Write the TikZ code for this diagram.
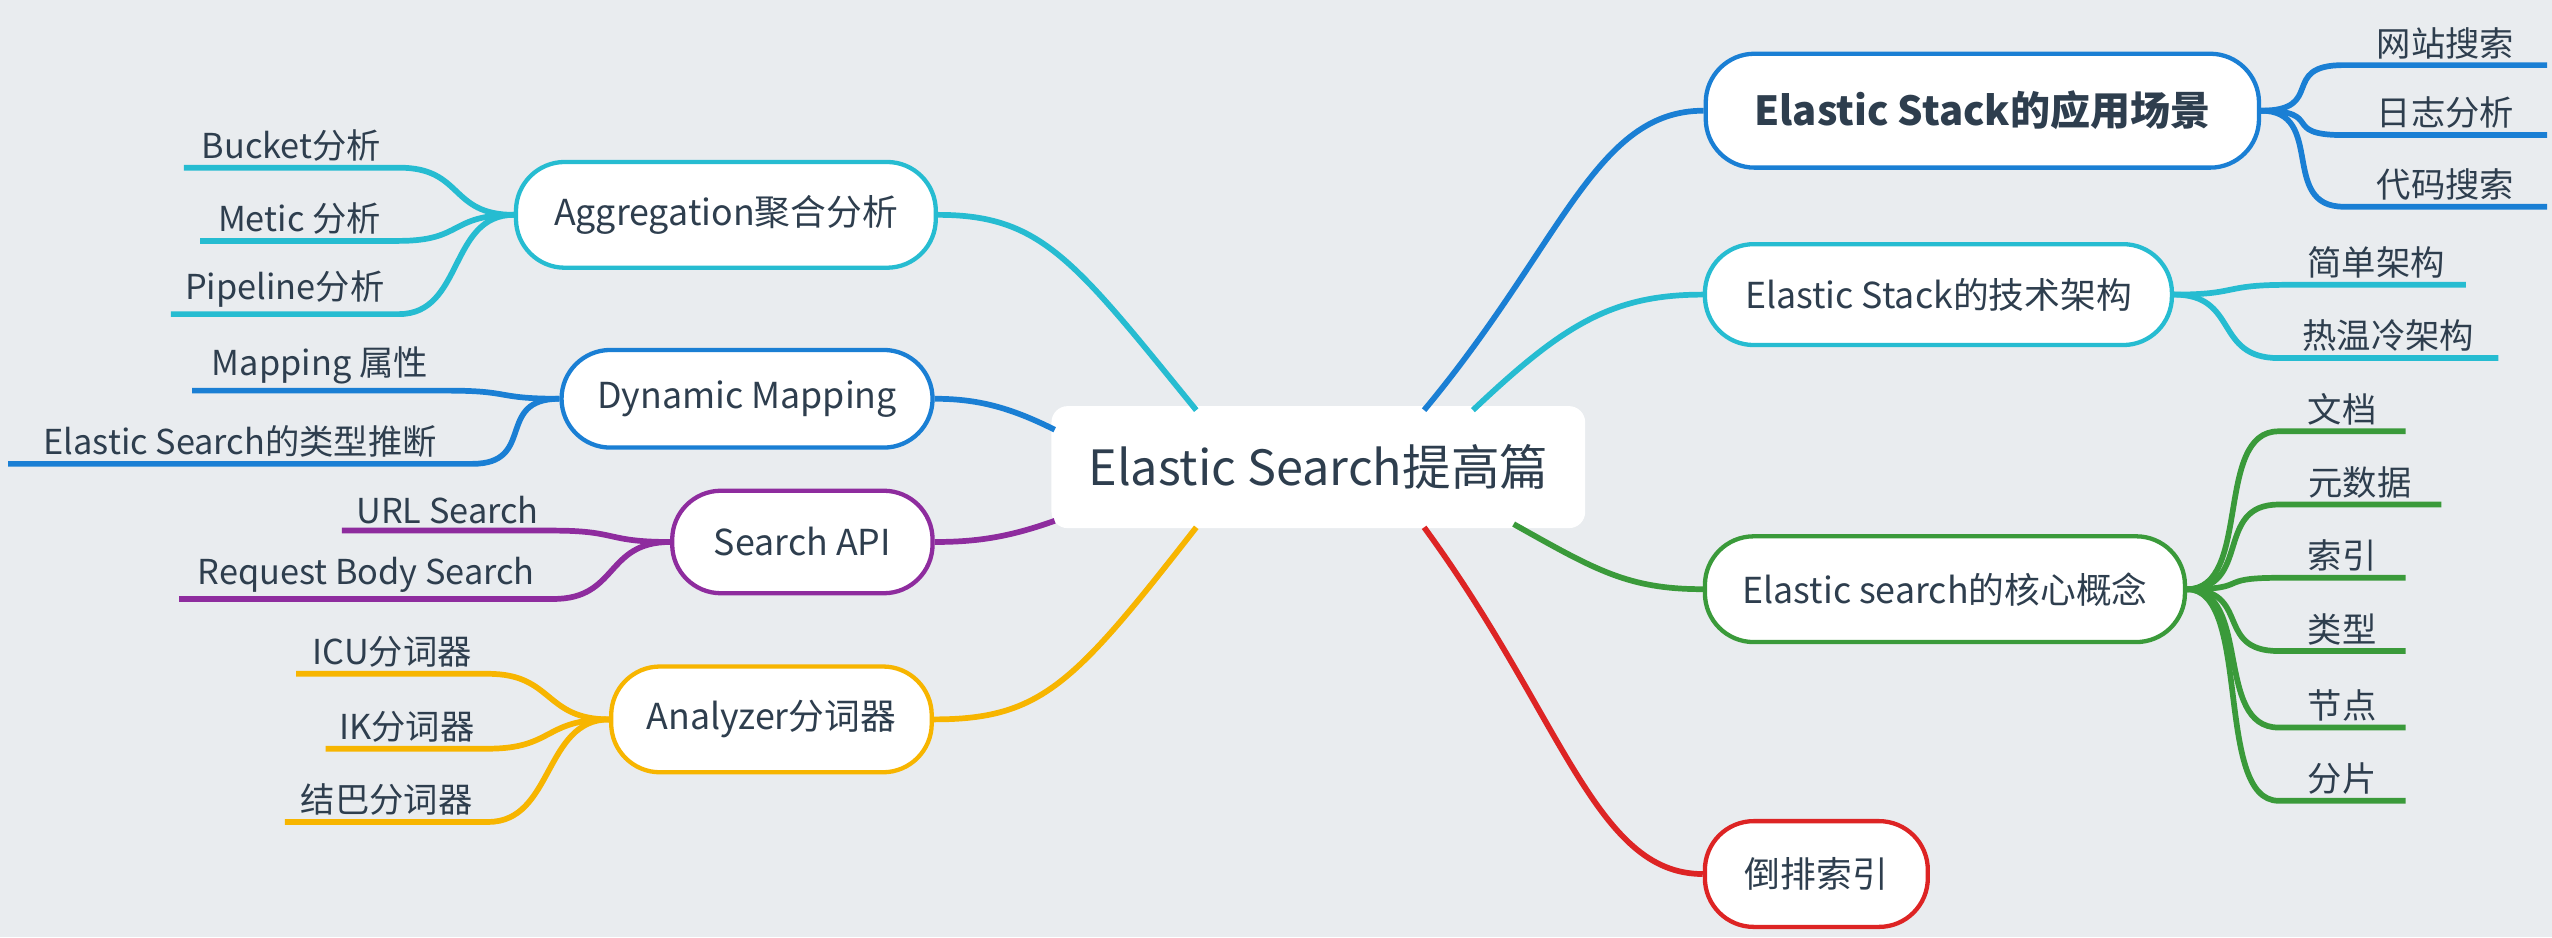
\documentclass[tikz,border=0pt]{standalone}
\usepackage{fontspec}
\setmainfont{Noto Sans CJK SC}
\usetikzlibrary{positioning,calc}
\definecolor{bg}{HTML}{E9ECEF}
\definecolor{ink}{HTML}{2E3E4E}
\definecolor{cblue}{HTML}{1A7FD4}
\definecolor{ccyan}{HTML}{26BCD1}
\definecolor{cgreen}{HTML}{3A9A3A}
\definecolor{cred}{HTML}{DD2424}
\definecolor{cpurple}{HTML}{8E2C9E}
\definecolor{cyellow}{HTML}{F7B500}
\tikzset{
  branch/.style={draw=#1,line width=1.5pt,fill=white,rounded corners=0.6cm,text=ink,
    font=\fontsize{12.5}{14}\selectfont,inner xsep=0pt},
  leaf/.style={anchor=south,text=ink,font=\fontsize{12}{14}\selectfont,inner sep=2pt},
  link/.style={draw=#1,line width=2pt},
}
\begin{document}
\begin{tikzpicture}[x=0.02cm,y=-0.02cm]
  \fill[bg] (0,0) rectangle (1568,576);
  \useasboundingbox (0,0) rectangle (1568,576);

  % center
  \node[fill=white,rounded corners=0.2cm,minimum width=6.56cm,minimum height=1.5cm,
    text=ink,font=\fontsize{17}{20}\selectfont] (root) at (810,287) {Elastic Search提高篇};

  % branches
  \node[branch=cblue,minimum width=6.8cm,minimum height=1.4cm,font=\fontsize{14}{16}\selectfont\bfseries] (scene) at (1218,68) {Elastic Stack的应用场景};
  \node[branch=ccyan,minimum width=5.74cm,minimum height=1.24cm] (arch) at (1191,181) {Elastic Stack的技术架构};
  \node[branch=cgreen,minimum width=5.9cm,minimum height=1.3cm] (core) at (1195,362) {Elastic search的核心概念};
  \node[branch=cred,minimum width=2.74cm,minimum height=1.3cm] (inv) at (1116,537) {倒排索引};
  \node[branch=ccyan,minimum width=5.16cm,minimum height=1.3cm] (agg) at (446,132) {Aggregation聚合分析};
  \node[branch=cblue,minimum width=4.56cm,minimum height=1.2cm] (dyn) at (459,245) {Dynamic Mapping};
  \node[branch=cpurple,minimum width=3.2cm,minimum height=1.26cm] (api) at (493,333) {Search API};
  \node[branch=cyellow,minimum width=3.94cm,minimum height=1.3cm] (ana) at (474,442) {Analyzer分词器};

  % root to branches
  \draw[link=cblue] (875,252) .. controls (960,150) and (980,68) .. (scene.west);
  \draw[link=ccyan] (905,252) .. controls (960,200) and (990,181) .. (arch.west);
  \draw[link=cgreen] (930,322) .. controls (980,350) and (1000,362) .. (core.west);
  \draw[link=cred] (875,324) .. controls (960,440) and (980,537) .. (inv.west);
  \draw[link=ccyan] (735,252) .. controls (660,160) and (640,132) .. (agg.east);
  \draw[link=cblue] (648,264) .. controls (620,250) and (600,245) .. (dyn.east);
  \draw[link=cpurple] (648,320) .. controls (620,330) and (600,333) .. (api.east);
  \draw[link=cyellow] (735,324) .. controls (660,420) and (640,442) .. (ana.east);

  % leaves: name/text/x1/x2/y/from/colour
  \foreach \n/\t/\xa/\xb/\y/\src/\c in {
      web/网站搜索/1440/1565/40/scene.east/cblue,
      log/日志分析/1440/1565/83/scene.east/cblue,
      code/代码搜索/1440/1565/127/scene.east/cblue,
      simple/简单架构/1405/1515/175/arch.east/ccyan,
      hot/热温冷架构/1400/1535/220/arch.east/ccyan,
      doc/文档/1400/1478/265/core.east/cgreen,
      meta/元数据/1400/1500/310/core.east/cgreen,
      idx/索引/1400/1478/355/core.east/cgreen,
      typ/类型/1400/1478/400/core.east/cgreen,
      nd/节点/1400/1478/447/core.east/cgreen,
      shard/分片/1400/1478/492/core.east/cgreen} {
    \coordinate (\n-a) at (\xa,\y);
    \coordinate (\n-b) at (\xb,\y);
    \draw[link=\c] (\src) .. controls +(40,0) and +(-40,0) .. (\n-a) -- (\n-b);
    \node[leaf] (\n) at ($(\n-a)!0.5!(\n-b)$) {\t};
  }
  \foreach \n/\t/\xa/\xb/\y/\src/\c in {
      bucket/Bucket分析/113/245/103/agg.west/ccyan,
      metic/Metic 分析/123/245/148/agg.west/ccyan,
      pipe/Pipeline分析/105/245/193/agg.west/ccyan,
      mapp/Mapping 属性/118/275/240/dyn.west/cblue,
      infer/Elastic Search的类型推断/5/290/285/dyn.west/cblue,
      url/URL Search/210/340/326/api.west/cpurple,
      body/Request Body Search/110/340/368/api.west/cpurple,
      icu/ICU分词器/182/300/414/ana.west/cyellow,
      ik/IK分词器/200/300/460/ana.west/cyellow,
      jieba/结巴分词器/175/300/505/ana.west/cyellow} {
    \coordinate (\n-a) at (\xa,\y);
    \coordinate (\n-b) at (\xb,\y);
    \draw[link=\c] (\src) .. controls +(-40,0) and +(40,0) .. (\n-b) -- (\n-a);
    \node[leaf] (\n) at ($(\n-a)!0.5!(\n-b)$) {\t};
  }
\end{tikzpicture}
\end{document}
